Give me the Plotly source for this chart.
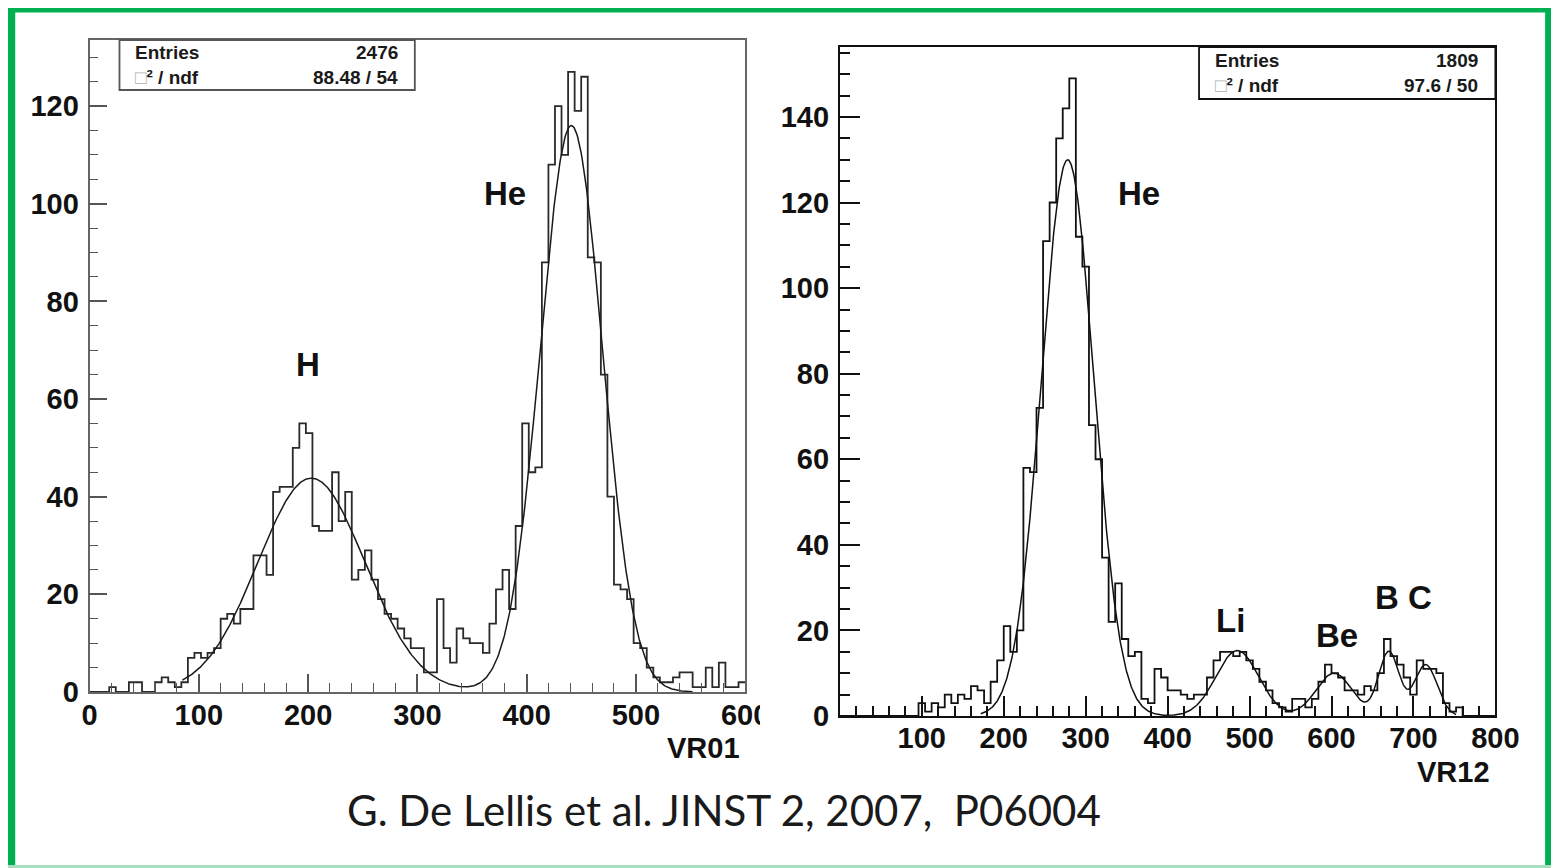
import numpy as np
import plotly.graph_objects as go

# The photographed page area is 1575x884 and is shrunk to the 1559x868 picture,
# so positions read from the reference are mapped back to page pixels.
W, H = 1575, 884
S = 868 / 884
CX = (1559 - W * S) / 2

# ---------------- data: left panel (VR01) ----------------
VR01_RANGE = [0, 600]
VR01_COUNTS = [
    0, 0, 0, 1, 0, 0, 2, 2, 0, 0,
    2, 3, 2, 1, 2, 7, 8, 7, 8, 9,
    15, 16, 14, 17, 17, 28, 28, 24, 41, 42,
    42, 50, 55, 53, 34, 33, 33, 45, 35, 41,
    23, 25, 29, 23, 19, 16, 15, 13, 11, 9,
    9, 4, 4, 19, 9, 6, 13, 11, 10, 10,
    8, 14, 21, 25, 17, 34, 55, 45, 46, 88,
    108, 120, 110, 127, 119, 126, 89, 88, 65, 40,
    22, 21, 19, 10, 9, 5, 3, 2, 2, 3,
    4, 4, 1, 1, 5, 1, 6, 1, 1, 2,
]
VR01_FIT_AMP = [43.8, 116.0]
VR01_FIT_MEAN = [203.0, 441.0]
VR01_FIT_SIGMA = [49.0, 28.5]
VR01_FIT_RANGE = [85, 552]
VR01_STATS_LABELS = ["Entries", "<span style='color:#b0b0b0'>□</span>² / ndf"]
VR01_STATS_VALUES = ["2476", "88.48 / 54"]
VR01_PEAK_NAMES = ["H", "He"]
VR01_PEAK_X = [200, 380]
VR01_PEAK_Y = [67, 102]

# ---------------- data: right panel (VR12) ----------------
VR12_RANGE = [0, 800]
VR12_COUNTS = [
    0, 0, 0, 0, 0, 0, 0, 0, 0, 0,
    0, 0, 3, 1, 3, 2, 5, 3, 5, 4,
    7, 6, 3, 8, 13, 21, 15, 20, 58, 57,
    72, 111, 120, 135, 142, 149, 112, 105, 68, 60,
    37, 22, 31, 18, 14, 15, 4, 3, 11, 9,
    6, 6, 5, 4, 5, 5, 9, 13, 15, 15,
    14, 15, 13, 11, 8, 6, 3, 2, 1, 4,
    4, 2, 4, 8, 12, 10, 9, 6, 6, 5,
    7, 6, 10, 18, 14, 12, 9, 5, 13, 11,
    11, 10, 3, 1, 2, 0, 0, 0, 0, 0,
]
VR12_FIT_AMP = [130.0, 15.3, 10.0, 15.0, 12.0]
VR12_FIT_MEAN = [278.0, 485.0, 603.0, 670.0, 715.0]
VR12_FIT_SIGMA = [32.0, 26.0, 22.0, 12.5, 14.0]
VR12_FIT_RANGE = [172, 752]
VR12_STATS_LABELS = ["Entries", "<span style='color:#b0b0b0'>□</span>² / ndf"]
VR12_STATS_VALUES = ["1809", "97.6 / 50"]
VR12_PEAK_NAMES = ["He", "Li", "Be", "B C"]
VR12_PEAK_X = [365, 477, 607, 688]
VR12_PEAK_Y = [122, 22.4, 18.7, 27.6]

CAPTION = "G. De Lellis et al. JINST 2, 2007,  P06004"

# ---------------- helpers ----------------
def px_page(x):
    return (x - CX) / S


def py_page(y):
    return y / S


def fx(x):
    return px_page(x) / W


def fy(y):
    return 1 - py_page(y) / H


def edges(rng, n):
    return np.linspace(rng[0], rng[1], n + 1)


def gauss_sum(x, amps, means, sigmas):
    y = np.zeros_like(x)
    for a, m, s in zip(amps, means, sigmas):
        y += a * np.exp(-0.5 * ((x - m) / s) ** 2)
    return y


fig = go.Figure()

e1 = edges(VR01_RANGE, len(VR01_COUNTS))
fig.add_trace(go.Scatter(x=e1, y=VR01_COUNTS + [VR01_COUNTS[-1]], mode="lines",
                         line=dict(shape="hv", color="#2a2a2a", width=1.8),
                         xaxis="x", yaxis="y", showlegend=False, hoverinfo="skip"))
xf1 = np.linspace(VR01_FIT_RANGE[0], VR01_FIT_RANGE[1], 600)
fig.add_trace(go.Scatter(x=xf1, y=gauss_sum(xf1, VR01_FIT_AMP, VR01_FIT_MEAN, VR01_FIT_SIGMA),
                         mode="lines", line=dict(color="#1a1a1a", width=1.5),
                         xaxis="x", yaxis="y", showlegend=False, hoverinfo="skip"))

e2 = edges(VR12_RANGE, len(VR12_COUNTS))
fig.add_trace(go.Scatter(x=e2, y=VR12_COUNTS + [VR12_COUNTS[-1]], mode="lines",
                         line=dict(shape="hv", color="#111111", width=1.8),
                         xaxis="x2", yaxis="y2", showlegend=False, hoverinfo="skip"))
xf2 = np.linspace(VR12_FIT_RANGE[0], VR12_FIT_RANGE[1], 800)
fig.add_trace(go.Scatter(x=xf2, y=gauss_sum(xf2, VR12_FIT_AMP, VR12_FIT_MEAN, VR12_FIT_SIGMA),
                         mode="lines", line=dict(color="#111111", width=1.5),
                         xaxis="x2", yaxis="y2", showlegend=False, hoverinfo="skip"))

TICKFONT = dict(family="Liberation Sans, Arial, sans-serif", size=29, color="#111111", weight="bold")

# panel geometry (reference pixels)
L_X0, L_X1, L_Y0, L_Y1 = 88, 745, 692, 40
R_X0, R_X1, R_Y0, R_Y1 = 840, 1497, 716, 47

common_axis = dict(showgrid=False, zeroline=False, showline=True, mirror=True,
                   ticks="inside", tickfont=TICKFONT, fixedrange=True)

fig.update_layout(
    width=W, height=H, autosize=False,
    margin=dict(l=0, r=0, t=0, b=0),
    paper_bgcolor="white", plot_bgcolor="white",
    showlegend=False,
    xaxis=dict(common_axis, domain=[fx(L_X0), fx(L_X1)], range=[0, 600], anchor="y",
               tickmode="linear", tick0=0, dtick=100, ticklen=18, tickwidth=1.5,
               linecolor="#666666", linewidth=1.8, tickcolor="#555555", ticklabelstandoff=-4,
               minor=dict(ticks="inside", ticklen=9, tickwidth=1.3, tickcolor="#555555",
                          tickmode="linear", tick0=0, dtick=20, showgrid=False)),
    yaxis=dict(common_axis, domain=[fy(L_Y0), fy(L_Y1)], range=[0, (L_Y0 - L_Y1) / 4.883],
               anchor="x", tickmode="linear", tick0=0, dtick=20, ticklen=18, tickwidth=1.5,
               linecolor="#666666", linewidth=1.8, tickcolor="#555555", ticklabelstandoff=3,
               minor=dict(ticks="inside", ticklen=9, tickwidth=1.3, tickcolor="#555555",
                          tickmode="linear", tick0=0, dtick=5, showgrid=False)),
    xaxis2=dict(common_axis, domain=[fx(R_X0), fx(R_X1)], range=[0, 800], anchor="y2",
                tickmode="array", tickvals=[0, 100, 200, 300, 400, 500, 600, 700, 800],
                ticktext=["", "100", "200", "300", "400", "500", "600", "700", "800"],
                ticklen=20, tickwidth=1.8, ticklabelstandoff=-5,
                linecolor="#111111", linewidth=2, tickcolor="#111111",
                minor=dict(ticks="inside", ticklen=10, tickwidth=1.5, tickcolor="#111111",
                           tickmode="linear", tick0=0, dtick=20, showgrid=False)),
    yaxis2=dict(common_axis, domain=[fy(R_Y0), fy(R_Y1)], range=[0, (R_Y0 - R_Y1) / 4.279],
                anchor="x2", tickmode="linear", tick0=0, dtick=20, ticklen=20, tickwidth=1.8,
                linecolor="#111111", linewidth=2, tickcolor="#111111", ticklabelstandoff=3,
                minor=dict(ticks="inside", ticklen=10, tickwidth=1.5, tickcolor="#111111",
                           tickmode="linear", tick0=0, dtick=5, showgrid=False)),
)

shapes = []
annotations = []

STATFONT = dict(family="Liberation Sans, Arial, sans-serif", size=19, color="#1a1a1a", weight="bold")
for (bx0, bx1, by0, by1, labels, values, col) in [
    (118, 414, 40, 90, VR01_STATS_LABELS, VR01_STATS_VALUES, "#555555"),
    (1200, 1497, 47, 99, VR12_STATS_LABELS, VR12_STATS_VALUES, "#111111"),
]:
    shapes.append(dict(type="rect", xref="paper", yref="paper", x0=fx(bx0), x1=fx(bx1),
                       y0=fy(by1), y1=fy(by0), line=dict(color=col, width=1.8),
                       fillcolor="white", layer="above"))
    rowh = (by1 - by0) / 2
    for i, (lab, val) in enumerate(zip(labels, values)):
        yc = by0 + rowh * (i + 0.5)
        annotations.append(dict(xref="paper", yref="paper", x=fx(bx0 + 14), y=fy(yc), text=lab,
                                showarrow=False, xanchor="left", yanchor="middle", font=STATFONT))
        annotations.append(dict(xref="paper", yref="paper", x=fx(bx1 - 15), y=fy(yc), text=val,
                                showarrow=False, xanchor="right", yanchor="middle", font=STATFONT))

PEAKFONT = dict(family="Liberation Sans, Arial, sans-serif", size=33, color="#111111", weight="bold")
for n, x, y in zip(VR01_PEAK_NAMES, VR01_PEAK_X, VR01_PEAK_Y):
    annotations.append(dict(xref="x", yref="y", x=x, y=y, text=n, showarrow=False,
                            xanchor="center", yanchor="middle", font=PEAKFONT))
for n, x, y in zip(VR12_PEAK_NAMES, VR12_PEAK_X, VR12_PEAK_Y):
    annotations.append(dict(xref="x2", yref="y2", x=x, y=y, text=n, showarrow=False,
                            xanchor="center", yanchor="middle", font=PEAKFONT))

TITLEFONT = dict(family="Liberation Sans, Arial, sans-serif", size=29, color="#111111", weight="bold")
annotations.append(dict(xref="paper", yref="paper", x=fx(742), y=fy(748), text="VR01",
                        showarrow=False, xanchor="right", yanchor="middle", font=TITLEFONT))
annotations.append(dict(xref="paper", yref="paper", x=fx(1494), y=fy(772), text="VR12",
                        showarrow=False, xanchor="right", yanchor="middle", font=TITLEFONT))

annotations.append(dict(xref="paper", yref="paper", x=fx(724), y=fy(810), text=CAPTION,
                        showarrow=False, xanchor="center", yanchor="middle",
                        font=dict(family="Lato, Open Sans, sans-serif", size=42, color="#1a1a1a")))

# clip of the "600" label as in the source image
shapes.append(dict(type="rect", xref="paper", yref="paper", x0=fx(760), x1=fx(790),
                   y0=fy(738), y1=fy(700), line=dict(width=0), fillcolor="white", layer="above"))

# green frame
GREEN = "#00B050"
shapes.append(dict(type="rect", xref="paper", yref="paper", x0=0, x1=fx(13.5), y0=0, y1=fy(8),
                   line=dict(width=0), fillcolor=GREEN, layer="above"))
shapes.append(dict(type="rect", xref="paper", yref="paper", x0=0, x1=1, y0=fy(12.5), y1=fy(8),
                   line=dict(width=0), fillcolor=GREEN, layer="above"))
shapes.append(dict(type="rect", xref="paper", yref="paper", x0=1 - 6 / W, x1=1, y0=0, y1=fy(8),
                   line=dict(width=0), fillcolor=GREEN, layer="above"))
shapes.append(dict(type="rect", xref="paper", yref="paper", x0=0, x1=1, y0=0, y1=3 / H,
                   line=dict(width=0), fillcolor="#a8dec0", layer="above"))

fig.update_layout(shapes=shapes, annotations=annotations)

fig.write_html("out.html", config={"displayModeBar": False},
               post_script="document.body.style.margin='0';document.body.style.overflow='hidden';")
